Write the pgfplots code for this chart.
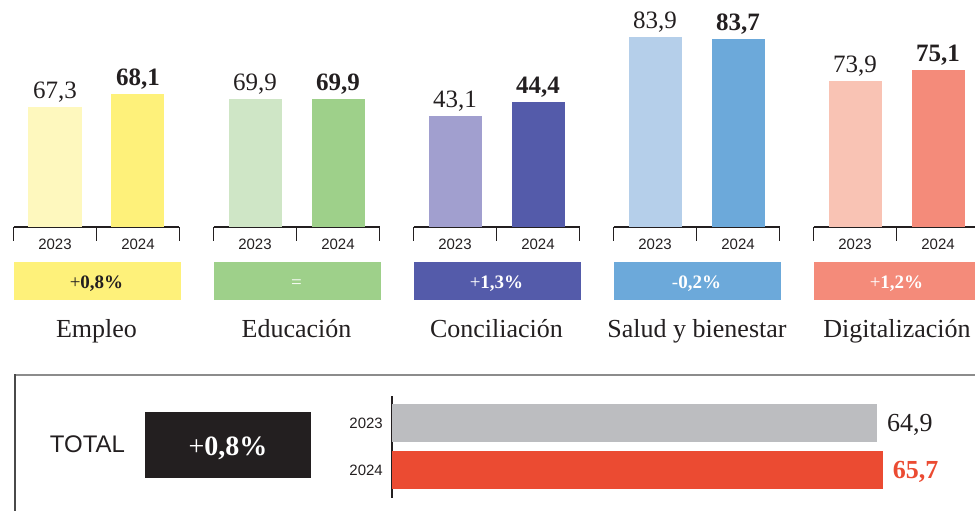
\documentclass[border=0pt]{standalone}
\usepackage{pgfplots}
\pgfplotsset{compat=1.18}
\usepackage{fontspec}
\setmainfont{Liberation Serif}
\newfontfamily\sansf{Liberation Sans}
\definecolor{ink}{HTML}{231F20}
\definecolor{emA}{HTML}{FEF8BE}
\definecolor{emB}{HTML}{FEF17A}
\definecolor{edA}{HTML}{CFE6C6}
\definecolor{edB}{HTML}{9ED08A}
\definecolor{coA}{HTML}{A19FCF}
\definecolor{coB}{HTML}{545BAA}
\definecolor{saA}{HTML}{B5CFEA}
\definecolor{saB}{HTML}{6CA9DA}
\definecolor{diA}{HTML}{F9C3B4}
\definecolor{diB}{HTML}{F48B7A}
\definecolor{totA}{HTML}{BCBDC0}
\definecolor{totB}{HTML}{EB4B32}
\definecolor{frameTop}{HTML}{8C8C8C}
\definecolor{frameLeft}{HTML}{4A4A4A}
\newcommand{\valfont}{\fontsize{25}{25}\selectfont}
\newcommand{\catfont}{\fontsize{26}{26}\selectfont}
\newcommand{\pctfont}{\fontsize{19}{19}\selectfont}
\newcommand{\yrfont}{\sansf\fontsize{15}{15}\selectfont}
\pgfplotsset{
  numfmt/.style={/pgf/number format/use comma, /pgf/number format/fixed,
    /pgf/number format/fixed zerofill, /pgf/number format/precision=1,
    /pgf/number format/assume math mode=true},
  grpaxis/.style={scale only axis, width=166pt, height=227pt, anchor=south west,
    xmin=0, xmax=2, ybar, bar width=53pt, bar shift=0pt,
    axis x line*=bottom, axis y line=none,
    xtick={0.5,1.5}, xticklabels={2023,2024}, major tick length=0pt,
    extra x ticks={0,1,2}, extra x tick labels={},
    extra x tick style={major tick length=14pt, tick align=outside},
    tick style={draw=ink, line width=1.2pt},
    axis line style={draw=ink, line width=1.2pt},
    xticklabel style={font=\yrfont, text=ink, anchor=north, inner sep=0pt, yshift=-12pt},
    numfmt},
  v23/.style={draw=none, fill=#1, nodes near coords,
    nodes near coords style={font=\valfont, text=ink, anchor=base, inner sep=0pt, yshift=8pt}},
  v24/.style={draw=none, fill=#1, nodes near coords,
    nodes near coords style={font=\valfont\bfseries, text=ink, anchor=base, inner sep=0pt, yshift=8pt}},
}
\begin{document}
\begin{tikzpicture}[x=1pt,y=1pt]
\path[use as bounding box] (0pt,0pt) rectangle (975pt,511pt);

% Empleo
\begin{axis}[grpaxis, at={(13.5pt,284pt)}, ymin=59.915, ymax=73.884]
\addplot[v23=emA] coordinates {(0.5,67.3)};
\addplot[v24=emB] coordinates {(1.5,68.1)};
\end{axis}
% Educacion
\begin{axis}[grpaxis, at={(213.5pt,284pt)}, ymin=0, ymax=123.96]
\addplot[v23=edA] coordinates {(0.5,69.9)};
\addplot[v24=edB] coordinates {(1.5,69.9)};
\end{axis}
% Conciliacion
\begin{axis}[grpaxis, at={(413.5pt,284pt)}, ymin=32.79, ymax=53.87]
\addplot[v23=coA] coordinates {(0.5,43.1)};
\addplot[v24=coB] coordinates {(1.5,44.4)};
\end{axis}
% Salud
\begin{axis}[grpaxis, at={(613.5pt,284pt)}, ymin=64.9, ymax=87.6]
\addplot[v23=saA] coordinates {(0.5,83.9)};
\addplot[v24=saB] coordinates {(1.5,83.7)};
\end{axis}
% Digitalizacion
\begin{axis}[grpaxis, at={(813.5pt,284pt)}, ymin=57.98, ymax=82.73]
\addplot[v23=diA] coordinates {(0.5,73.9)};
\addplot[v24=diB] coordinates {(1.5,75.1)};
\end{axis}

% badges
\fill[emB] (13.5pt,211pt) rectangle (180.5pt,249pt);
\fill[edB] (213.5pt,211pt) rectangle (380.5pt,249pt);
\fill[coB] (413.5pt,211pt) rectangle (580.5pt,249pt);
\fill[saB] (613.5pt,211pt) rectangle (780.5pt,249pt);
\fill[diB] (813.5pt,211pt) rectangle (980.5pt,249pt);
\node[anchor=base, inner sep=0pt, text=ink, font=\pctfont] at (96.5pt,222pt) {+\textbf{0,8\%}};
\node[anchor=base, inner sep=0pt, text=white, font=\pctfont] at (296.5pt,222pt) {=};
\node[anchor=base, inner sep=0pt, text=white, font=\pctfont] at (496.5pt,222pt) {+\textbf{1,3\%}};
\node[anchor=base, inner sep=0pt, text=white, font=\pctfont] at (696.5pt,222pt) {-\textbf{0,2\%}};
\node[anchor=base, inner sep=0pt, text=white, font=\pctfont] at (896.5pt,222pt) {+\textbf{1,2\%}};

% category names
\node[anchor=base, inner sep=0pt, text=ink, font=\catfont] at (96.5pt,173pt) {Empleo};
\node[anchor=base, inner sep=0pt, text=ink, font=\catfont] at (296.5pt,173pt) {Educación};
\node[anchor=base, inner sep=0pt, text=ink, font=\catfont] at (496.5pt,173pt) {Conciliación};
\node[anchor=base, inner sep=0pt, text=ink, font=\catfont] at (697pt,173pt) {Salud y bienestar};
\node[anchor=base, inner sep=0pt, text=ink, font=\catfont] at (897pt,173pt) {Digitalización};

% total frame
\draw[frameTop, line width=2pt] (14pt,135.5pt) -- (976pt,135.5pt);
\draw[frameLeft, line width=2pt] (14.5pt,136.5pt) -- (14.5pt,-1pt);
\node[anchor=base, inner sep=0pt, text=ink, font=\sansf\fontsize{24}{24}\selectfont] at (87.5pt,58pt) {TOTAL};
\fill[ink] (145pt,33pt) rectangle (311pt,99pt);
\node[anchor=base, inner sep=0pt, text=white, font=\fontsize{28}{28}\selectfont] at (228pt,55pt) {+\textbf{0,8\%}};

\begin{axis}[scale only axis, anchor=south west, at={(392pt,13pt)},
  x=7.47pt, y=47pt, xmin=0, xmax=78, ymin=-0.596, ymax=1.574,
  xbar, bar width=38pt, bar shift=0pt, clip=false,
  axis y line*=left, axis x line=none,
  ytick={0,1}, yticklabels={2024,2023}, major tick length=0pt,
  axis line style={draw=ink, line width=1.2pt},
  yticklabel style={font=\yrfont, text=ink, anchor=east, inner sep=0pt, xshift=-9pt},
  numfmt]
\addplot[draw=none, fill=totA, nodes near coords,
  nodes near coords style={font=\fontsize{26}{26}\selectfont, text=ink, anchor=base west, inner sep=0pt, xshift=10pt, yshift=-9pt}]
  coordinates {(64.9,1)};
\addplot[draw=none, fill=totB, nodes near coords,
  nodes near coords style={font=\fontsize{26}{26}\selectfont\bfseries, text=totB, anchor=base west, inner sep=0pt, xshift=10pt, yshift=-9pt}]
  coordinates {(65.7,0)};
\end{axis}
\end{tikzpicture}
\end{document}
